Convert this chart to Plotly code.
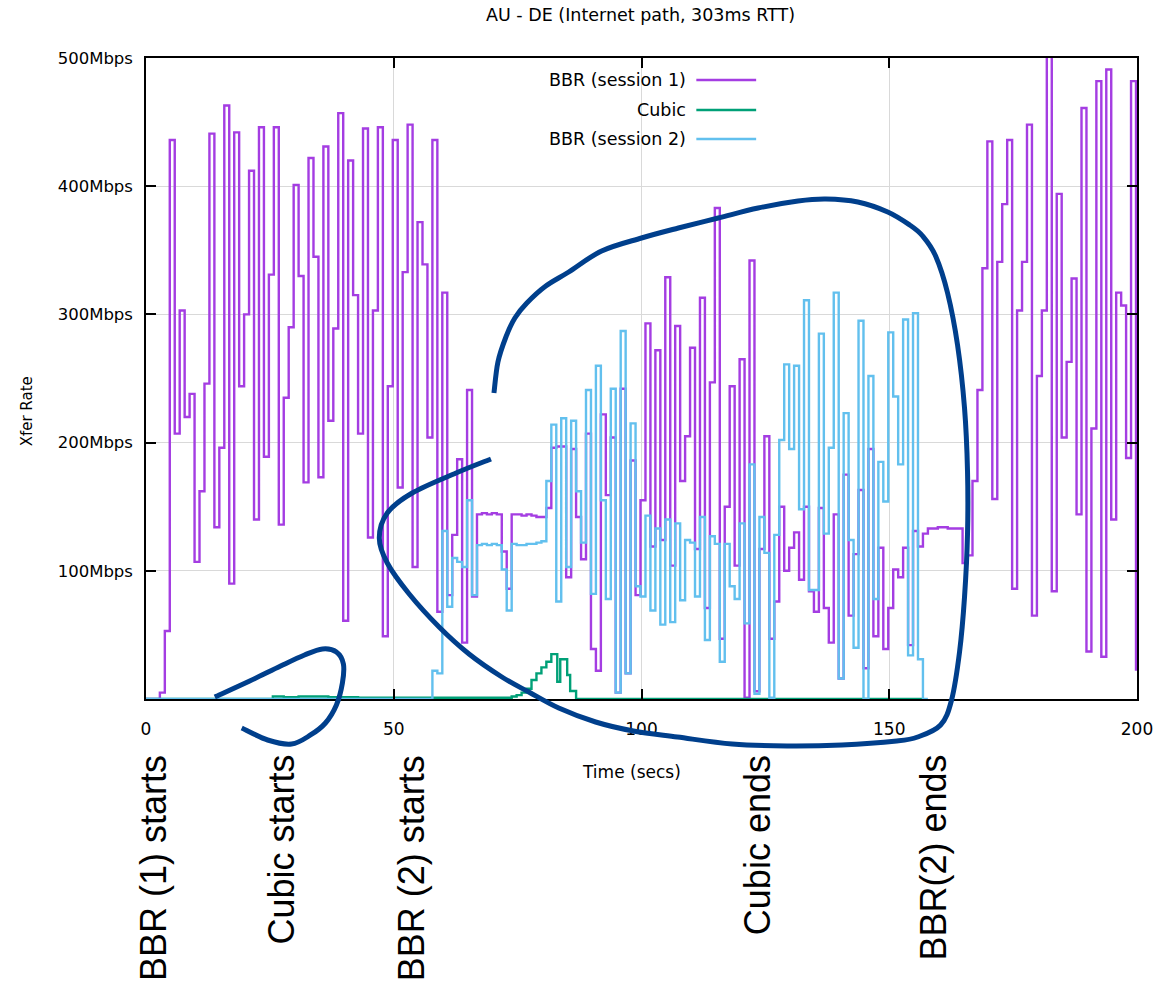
import plotly.graph_objects as go

# ---------------- data ----------------
# BBR session 1, Mbps, one value per ~1 s interval (k = 0..199)
bbr1_rate = [
    0, 0, 5, 53, 436, 207, 303, 220, 238, 107,
    162, 246, 441, 134, 196, 463, 90, 442, 244, 300,
    412, 140, 446, 189, 331, 446, 136, 235, 290, 401,
    330, 169, 422, 345, 173, 431, 217, 289, 457, 61,
    420, 315, 207, 445, 126, 303, 446, 49, 244, 436,
    165, 333, 448, 103, 372, 339, 204, 436, 68, 317,
    81, 128, 187, 44, 241, 80, 144, 145, 144, 145,
    144, 115, 86, 144, 144, 143, 144, 143, 142, 142,
    149, 196, 197, 197, 95, 195, 142, 109, 207, 39,
    22, 222, 159, 204, 5, 242, 20, 186, 81, 155,
    293, 119, 272, 124, 329, 104, 291, 170, 205, 274,
    117, 313, 71, 247, 383, 47, 150, 244, 104, 265,
    1, 342, 6, 117, 205, 47, 76, 150, 100, 118,
    130, 93, 150, 84, 68, 149, 71, 44, 144, 16,
    175, 65, 113, 163, 24, 195, 49, 118, 39, 71,
    101, 95, 118, 42, 131, 119, 129, 133, 133, 134,
    134, 133, 133, 133, 106, 112, 170, 241, 336, 435,
    156, 341, 386, 436, 86, 303, 341, 448, 65, 252,
    303, 505, 84, 394, 204, 263, 328, 144, 461, 37,
    211, 482, 33, 491, 140, 317, 307, 188, 482, 22,
]

# BBR session 2, Mbps (k = 0..157)
bbr2_rate = [
    0, 0, 0, 0, 0, 0, 0, 0, 0, 0,
    0, 0, 0, 0, 0, 0, 0, 0, 0, 0,
    0, 0, 0, 0, 0, 0, 0, 0, 0, 0,
    0, 0, 0, 0, 0, 0, 0, 0, 0, 0,
    0, 0, 0, 0, 0, 0, 0, 0, 0, 0,
    0, 0, 0, 0, 0, 0, 0, 22, 20, 131,
    72, 110, 107, 103, 155, 81, 120, 121, 120, 121,
    120, 101, 69, 121, 120, 120, 121, 121, 122, 123,
    170, 214, 76, 219, 103, 217, 162, 122, 241, 82,
    260, 155, 78, 242, 5, 287, 20, 215, 88, 80,
    143, 69, 133, 58, 140, 60, 137, 77, 124, 122,
    80, 142, 46, 127, 121, 29, 121, 88, 78, 137,
    59, 183, 4, 142, 114, 1, 128, 202, 261, 195,
    260, 148, 311, 85, 85, 285, 129, 196, 317, 16,
    223, 124, 40, 295, 0, 252, 78, 185, 154, 286,
    236, 183, 296, 34, 301, 31, 0, 0,
]

# Cubic, Mbps with its own sample times (s)
cubic_time = [0, 25.6, 27.8, 30.8, 36.8, 42.8, 50.8, 57.8, 65.8, 72.8, 73.8, 74.8,
              75.8, 76.8, 77.8, 78.8, 79.8, 80.8, 81.8, 83.0, 83.6, 85.0, 85.6, 86.8, 157.0]
cubic_rate = [0, 2, 1.5, 2, 1.5, 1, 1, 1, 1, 1, 2, 3,
              5, 8, 14.8, 20, 24.7, 29, 35, 13.5, 31, 18.7, 6.2, 0, 0]

# interval start times for the two BBR sessions (s)
step_time = [k + 0.8 for k in range(200)]

x_ticks = [0, 50, 100, 150, 200]
y_ticks = [100, 200, 300, 400, 500]
y_tick_text = ["100Mbps", "200Mbps", "300Mbps", "400Mbps", "500Mbps"]

series_names = ["BBR (session 1)", "Cubic", "BBR (session 2)"]
series_colors = ["#a43de2", "#00a077", "#62c0ee"]

event_labels = ["BBR (1) starts", "Cubic starts", "BBR (2) starts", "Cubic ends", "BBR(2) ends"]

# ---------------- geometry helpers (pixel -> paper) ----------------
W, H = 1165, 981
PL, PR, PT, PB = 146, 1140, 58, 699


def pxx(x):
    return (x - PL) / (PR - PL)


def pxy(y):
    return (PB - y) / (PB - PT)


def smooth_path(points):
    pts = [(pxx(x), pxy(y)) for x, y in points]
    d = "M {:.5f},{:.5f}".format(*pts[0])
    n = len(pts)
    for i in range(n - 1):
        p0 = pts[i - 1] if i > 0 else pts[i]
        p1 = pts[i]
        p2 = pts[i + 1]
        p3 = pts[i + 2] if i + 2 < n else pts[i + 1]
        c1 = (p1[0] + (p2[0] - p0[0]) / 6, p1[1] + (p2[1] - p0[1]) / 6)
        c2 = (p2[0] - (p3[0] - p1[0]) / 6, p2[1] - (p3[1] - p1[1]) / 6)
        d += " C {:.5f},{:.5f} {:.5f},{:.5f} {:.5f},{:.5f}".format(c1[0], c1[1], c2[0], c2[1], p2[0], p2[1])
    return d


# hand-drawn highlight strokes (pixel positions on the page)
loop_small = [(215, 697), (250, 681), (281, 666), (305, 655), (323, 649), (337, 652),
              (344, 664), (343, 683), (337, 705), (326, 723), (311, 735), (292, 744),
              (268, 740), (242, 728)]
loop_big = [(495, 393), (499, 362), (507, 337), (516, 318), (528, 303), (547, 286),
            (570, 272), (603, 251), (643, 238), (680, 228), (720, 218), (760, 208),
            (800, 201), (828, 199), (860, 202), (890, 212), (912, 225), (925, 236),
            (938, 256), (950, 293), (960, 345), (967, 408), (970, 471), (970, 534),
            (967, 597), (962, 652), (954, 700), (943, 725), (920, 737), (899, 741),
            (844, 745), (789, 746), (734, 744), (679, 737), (635, 731), (597, 722),
            (560, 708), (530, 692), (503, 677), (470, 654), (440, 627), (410, 594),
            (388, 563), (380, 538), (388, 513), (413, 493), (457, 473), (492, 459)]

FONT = "DejaVu Sans"
FONT_ROT = "Liberation Sans, Arial, sans-serif"

fig = go.Figure()

fig.add_trace(go.Scatter(x=[0] + step_time, y=[0] + bbr1_rate, mode="lines",
                         line=dict(shape="hv", color=series_colors[0], width=2.4),
                         name=series_names[0], showlegend=False))
fig.add_trace(go.Scatter(x=cubic_time, y=cubic_rate, mode="lines",
                         line=dict(shape="hv", color=series_colors[1], width=2.4),
                         name=series_names[1], showlegend=False))
fig.add_trace(go.Scatter(x=[0] + step_time[:len(bbr2_rate)], y=[0] + bbr2_rate, mode="lines",
                         line=dict(shape="hv", color=series_colors[2], width=2.4),
                         name=series_names[2], showlegend=False))

shapes = []
annotations = []

# legend drawn gnuplot-style: label then line sample
legend_y = [80, 110, 139]
for name, col, yy in zip(series_names, series_colors, legend_y):
    annotations.append(dict(x=pxx(690), y=pxy(yy), xref="paper", yref="paper", text=name,
                            showarrow=False, xanchor="right", yanchor="middle",
                            font=dict(family=FONT, size=17.5, color="black")))
    shapes.append(dict(type="line", xref="paper", yref="paper", x0=pxx(698), x1=pxx(758),
                       y0=pxy(yy), y1=pxy(yy), line=dict(color=col, width=2.4)))

# title and axis titles
annotations.append(dict(x=pxx(642), y=pxy(15), xref="paper", yref="paper",
                        text="AU - DE (Internet path, 303ms RTT)", showarrow=False,
                        xanchor="center", yanchor="middle",
                        font=dict(family=FONT, size=17.5, color="black")))
annotations.append(dict(x=pxx(633), y=pxy(772), xref="paper", yref="paper",
                        text="Time (secs)", showarrow=False, xanchor="center", yanchor="middle",
                        font=dict(family=FONT, size=17, color="black")))
annotations.append(dict(x=pxx(27), y=pxy(411), xref="paper", yref="paper",
                        text="Xfer Rate", showarrow=False, textangle=-90,
                        xanchor="center", yanchor="middle",
                        font=dict(family=FONT, size=15, color="black")))

# big rotated event labels
label_x = [154, 282, 413, 760, 936]
for txt, lx in zip(event_labels, label_x):
    annotations.append(dict(x=pxx(lx), y=pxy(753), xref="paper", yref="paper", text=txt,
                            showarrow=False, textangle=-90, xanchor="center", yanchor="top",
                            font=dict(family=FONT_ROT, size=36, color="black")))

for pts in (loop_small, loop_big):
    shapes.append(dict(type="path", xref="paper", yref="paper", path=smooth_path(pts),
                       line=dict(color="#003f8c", width=5)))

fig.update_layout(
    width=W, height=H,
    margin=dict(l=PL, r=W - PR, t=PT, b=H - PB, pad=0),
    plot_bgcolor="white", paper_bgcolor="white",
    shapes=shapes, annotations=annotations,
    showlegend=False,
    font=dict(family=FONT, size=17, color="black"),
)
fig.update_xaxes(range=[0, 200], tickvals=x_ticks, ticks="inside", ticklen=10, tickwidth=2,
                 tickcolor="black", showline=True, linecolor="black", linewidth=1.5,
                 mirror="ticks", showgrid=True, gridcolor="#d9d9d9", gridwidth=1,
                 zeroline=False, ticklabelstandoff=14,
                 tickfont=dict(family=FONT, size=17, color="black"))
fig.update_yaxes(range=[0, 500], tickvals=y_ticks, ticktext=y_tick_text, ticks="inside",
                 ticklen=10, tickwidth=2, tickcolor="black", showline=True, linecolor="black",
                 linewidth=1.5, mirror="ticks", showgrid=True, gridcolor="#d9d9d9", gridwidth=1,
                 zeroline=False, ticklabelstandoff=8,
                 tickfont=dict(family=FONT, size=16.5, color="black"))

fig.write_html("out.html")
